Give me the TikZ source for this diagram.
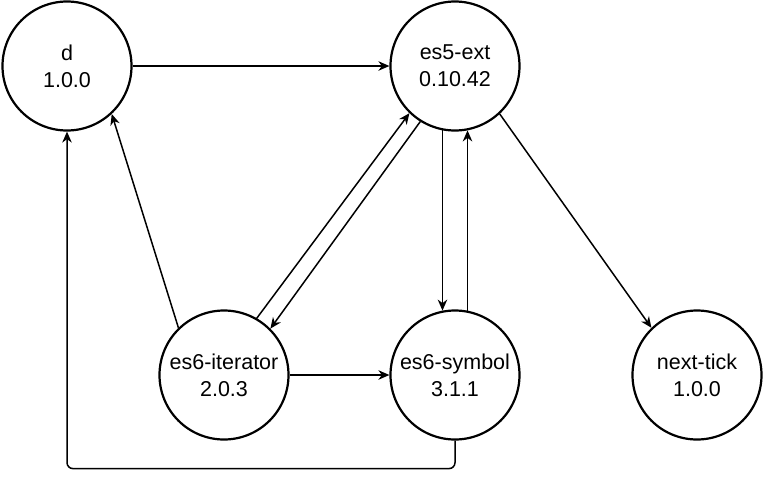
\documentclass[tikz,border=0pt]{standalone}
\usepackage{fontspec}
\setmainfont{Liberation Sans}
\usetikzlibrary{arrows.meta}

\tikzset{
  pkg/.style={circle,draw,line width=2.2pt,minimum size=129pt,inner sep=-10pt,
    align=center,font=\fontsize{21.5}{27}\selectfont},
  dep/.style={-{Stealth[length=11pt,width=9.5pt,inset=3.5pt]},line width=1.5pt}
}

\begin{document}
\begin{tikzpicture}[x=1pt,y=-1pt]
\useasboundingbox (0,0) rectangle (763,480);
\node[pkg] (d) at (67,66) {d\\1.0.0};
\node[pkg] (es5ext) at (455,66) {es5-ext\\0.10.42};
\node[pkg] (iterator) at (224,375) {es6-iterator\\2.0.3};
\node[pkg] (symbol) at (455,375) {es6-symbol\\3.1.1};
\node[pkg] (nexttick) at (697,375) {next-tick\\1.0.0};

\draw[dep] (d.east) -- (es5ext.west);
\draw[dep] (iterator.134) -- (d.313);
\draw[dep] (iterator.60) -- (es5ext.226);
\draw[dep] (es5ext.238) -- (iterator.45);
\draw[dep] (es5ext.259) -- (symbol.101);
\draw[dep] (symbol.79) -- (es5ext.281);
\draw[dep] (iterator.east) -- (symbol.west);
\draw[dep] (es5ext.313) -- (nexttick.134);
\draw[dep,rounded corners=6pt] (symbol.south) -- ++(0,28) -| (d.south);
\end{tikzpicture}
\end{document}
